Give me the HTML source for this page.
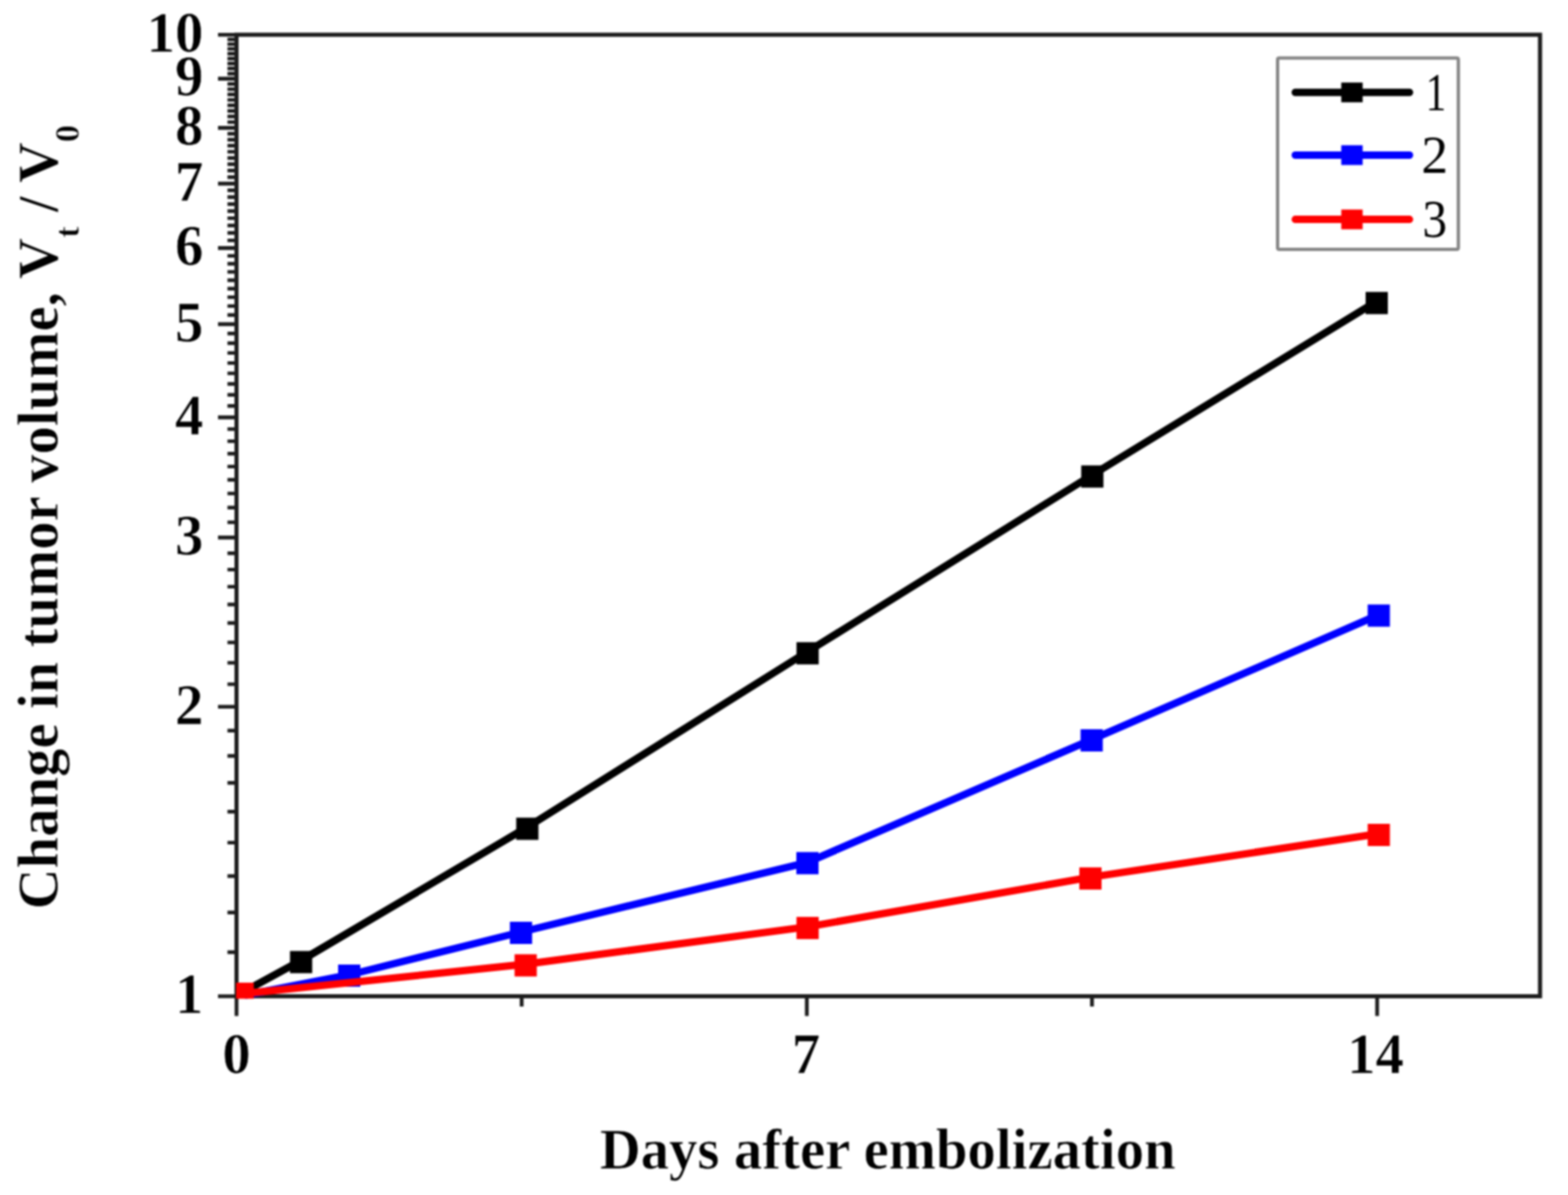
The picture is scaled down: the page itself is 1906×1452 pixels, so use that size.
<!DOCTYPE html>
<html><head><meta charset="utf-8"><title>Change in tumor volume</title>
<style>html,body{margin:0;padding:0;background:#fff;}body{width:1906px;height:1452px;overflow:hidden;}svg{display:block;filter:blur(1px);}</style>
</head><body>
<svg width="1906" height="1452" viewBox="0 0 1906 1452"><path d="M276.5 1157.04H287.5 M276.5 1108.68H287.5 M276.5 1064.53H287.5 M276.5 1023.92H287.5 M276.5 986.32H287.5 M276.5 951.31H287.5 M276.5 918.57H287.5 M276.5 887.81H287.5 M276.5 831.37H287.5 M276.5 805.35H287.5 M276.5 780.59H287.5 M276.5 756.99H287.5 M276.5 734.43H287.5 M276.5 712.84H287.5 M276.5 692.13H287.5 M276.5 672.23H287.5 M276.5 634.63H287.5 M276.5 616.82H287.5 M276.5 599.62H287.5 M276.5 582.98H287.5 M276.5 566.87H287.5 M276.5 551.26H287.5 M276.5 536.11H287.5 M276.5 521.41H287.5 M276.5 493.21H287.5 M276.5 479.68H287.5 M276.5 466.50H287.5 M276.5 453.65H287.5 M276.5 441.13H287.5 M276.5 428.90H287.5 M276.5 416.96H287.5 M276.5 405.30H287.5 M276.5 382.74H287.5 M276.5 371.83H287.5 M276.5 361.15H287.5 M276.5 350.69H287.5 M276.5 340.43H287.5 M276.5 330.39H287.5 M276.5 320.53H287.5 M276.5 310.87H287.5 M276.5 292.08H287.5 M276.5 282.93H287.5 M276.5 273.95H287.5 M276.5 265.13H287.5 M276.5 256.46H287.5 M276.5 247.93H287.5 M276.5 239.54H287.5 M276.5 231.29H287.5 M276.5 215.18H287.5 M276.5 207.31H287.5 M276.5 199.57H287.5 M276.5 191.94H287.5 M276.5 184.42H287.5 M276.5 177.01H287.5 M276.5 169.71H287.5 M276.5 162.52H287.5 M276.5 148.42H287.5 M276.5 141.52H287.5 M276.5 134.71H287.5 M276.5 127.99H287.5 M276.5 121.35H287.5 M276.5 114.81H287.5 M276.5 108.34H287.5 M276.5 101.96H287.5 M276.5 89.43H287.5 M276.5 83.28H287.5 M276.5 77.21H287.5 M276.5 71.20H287.5 M276.5 65.27H287.5 M276.5 59.40H287.5 M276.5 53.60H287.5 M276.5 47.87H287.5" stroke="#1c1c1c" stroke-width="4.4" fill="none"/>
<path d="M265 1210.50H287.5 M265 858.81H287.5 M265 653.08H287.5 M265 507.11H287.5 M265 393.89H287.5 M265 301.39H287.5 M265 223.17H287.5 M265 155.42H287.5 M265 95.66H287.5 M265 42.20H287.5" stroke="#1c1c1c" stroke-width="4.6" fill="none"/>
<path d="M287.50 1210.5V1234.5 M980.75 1210.5V1234.5 M1674.00 1210.5V1234.5 M634.12 1210.5V1223 M1327.38 1210.5V1223" stroke="#1c1c1c" stroke-width="4.6" fill="none"/>
<rect x="287.5" y="42.2" width="1584.5" height="1168.3" fill="none" stroke="#1c1c1c" stroke-width="5"/>
<g font-family="Liberation Serif, serif" font-weight="bold" font-size="69" text-anchor="end" fill="#000" stroke="#fff" stroke-width="0.7"><text x="247.2" y="1210.5" dy="0.30em">1</text><text x="247.2" y="858.8" dy="0.30em">2</text><text x="247.2" y="653.1" dy="0.30em">3</text><text x="247.2" y="507.1" dy="0.30em">4</text><text x="247.2" y="393.9" dy="0.30em">5</text><text x="247.2" y="301.4" dy="0.30em">6</text><text x="247.2" y="223.2" dy="0.30em">7</text><text x="247.2" y="155.4" dy="0.30em">8</text><text x="247.2" y="95.7" dy="0.30em">9</text><text x="247.2" y="42.2" dy="0.30em">10</text></g>
<g font-family="Liberation Serif, serif" font-weight="bold" font-size="69" text-anchor="middle" fill="#000" stroke="#fff" stroke-width="0.7"><text x="287.5" y="1303.5">0</text><text x="979.8" y="1303.5">7</text><text x="1672" y="1303.5">14</text></g>
<path d="M299 1203.5 L366 1167.0 L641 1005.0 L981.7 791.8 L1327.8 577.0 L1673.5 366.2" stroke="#000000" stroke-width="9" fill="none" stroke-linejoin="round" stroke-linecap="round"/>
<g fill="#000000"><rect x="352.5" y="1155.5" width="27" height="27"/><rect x="627.5" y="993.5" width="27" height="27"/><rect x="968.2" y="780.3" width="27" height="27"/><rect x="1314.3" y="565.5" width="27" height="27"/><rect x="1660.0" y="354.7" width="27" height="27"/></g>
<path d="M299 1209 L424.5 1184.5 L633.3 1132.5 L981.5 1047.8 L1327 898.6 L1676 747.0" stroke="#0000ff" stroke-width="9" fill="none" stroke-linejoin="round" stroke-linecap="round"/>
<g fill="#0000ff"><rect x="411.0" y="1172.0" width="27" height="27"/><rect x="619.8" y="1120.0" width="27" height="27"/><rect x="968.0" y="1035.3" width="27" height="27"/><rect x="1313.5" y="886.1" width="27" height="27"/><rect x="1662.5" y="734.5" width="27" height="27"/></g>
<path d="M299 1207 L639 1171.5 L981.7 1126.1 L1325.5 1065.9 L1676 1013.0" stroke="#ff0000" stroke-width="9" fill="none" stroke-linejoin="round" stroke-linecap="round"/>
<g fill="#ff0000"><rect x="625.5" y="1159.5" width="27" height="27"/><rect x="968.2" y="1114.1" width="27" height="27"/><rect x="1312.0" y="1053.9" width="27" height="27"/><rect x="1662.5" y="1001.0" width="27" height="27"/><rect x="287" y="1194" width="21.5" height="19.5"/></g>
<rect x="1553" y="70.5" width="219.7" height="232.4" rx="2" fill="#fff" stroke="#858585" stroke-width="4"/>
<path d="M1574.5 112.3H1713.3" stroke="#000" stroke-width="9" stroke-linecap="round"/>
<rect x="1630.4" y="100.3" width="26" height="24" fill="#000"/>
<text x="1745.5" y="112.3" dy="0.33em" text-anchor="middle" textLength="25" lengthAdjust="spacingAndGlyphs" font-family="Liberation Serif, serif" font-size="65" fill="#000">1</text>
<path d="M1574.5 188.5H1713.3" stroke="#0000ff" stroke-width="9" stroke-linecap="round"/>
<rect x="1630.4" y="176.5" width="26" height="24" fill="#0000ff"/>
<text x="1744" y="188.5" dy="0.33em" text-anchor="middle" font-family="Liberation Serif, serif" font-size="65" fill="#000">2</text>
<path d="M1574.5 266.6H1713.3" stroke="#ff0000" stroke-width="9" stroke-linecap="round"/>
<rect x="1630.4" y="254.60000000000002" width="26" height="24" fill="#ff0000"/>
<text x="1744" y="266.6" dy="0.33em" text-anchor="middle" textLength="30" lengthAdjust="spacingAndGlyphs" font-family="Liberation Serif, serif" font-size="65" fill="#000">3</text>
<text x="729" y="1419.5" font-family="Liberation Serif, serif" font-weight="bold" font-size="69" fill="#000" stroke="#fff" stroke-width="0.7">Days after embolization</text>
<text transform="translate(70,1105) rotate(-90)" x="0" y="0" font-family="Liberation Serif, serif" font-weight="bold" font-size="69" fill="#000" stroke="#fff" stroke-width="0.7">Change in tumor volume, V<tspan font-size="42" dy="26">t</tspan><tspan dy="-26"> / V</tspan><tspan font-size="42" dy="26">0</tspan></text></svg>
</body></html>
